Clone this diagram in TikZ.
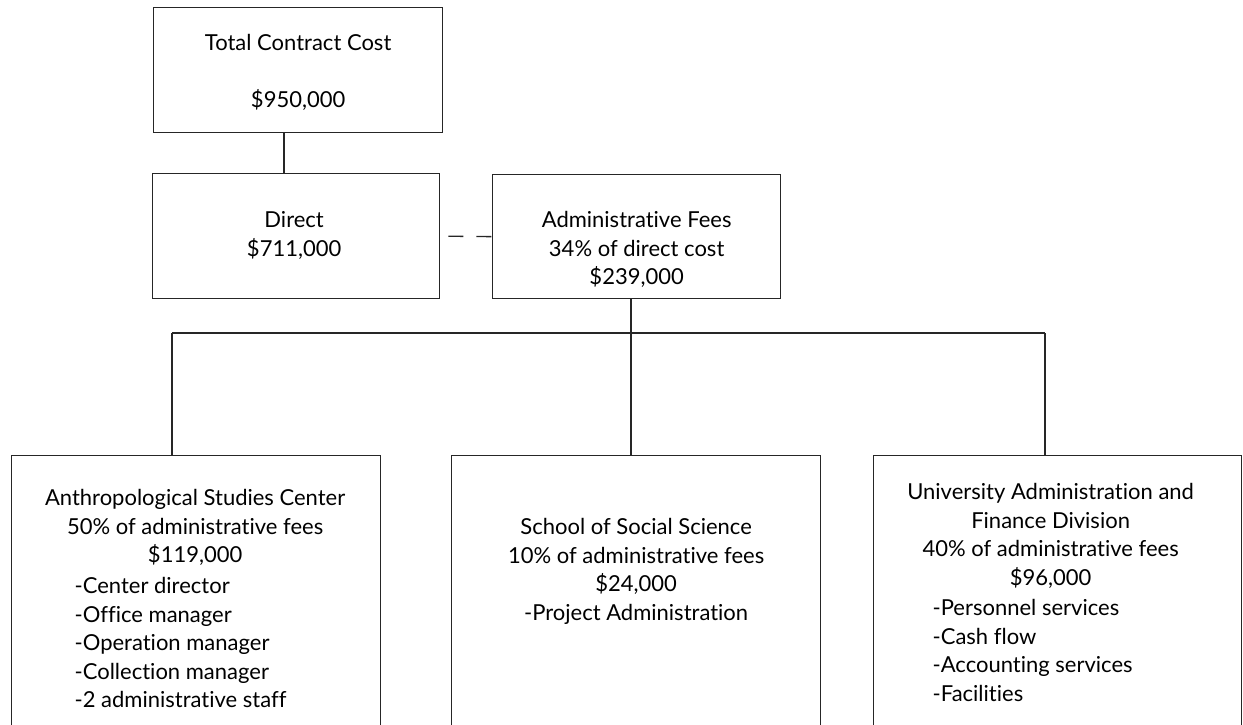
\documentclass[tikz,border=0pt]{standalone}
\usepackage{fontspec}
\setmainfont{Lato}[Ligatures=NoCommon]
\usetikzlibrary{positioning}

\begin{document}
\begin{tikzpicture}[
      x=1pt, y=-1pt,
      line width=1.3pt, draw=black!85,
      font=\fontsize{22}{28.5}\selectfont,
      box/.style={draw, inner sep=0pt, anchor=north west},
      heading/.style={align=center, inner sep=0pt},
      duties/.style={align=left, inner sep=0pt, anchor=north west},
      link/.style={line width=1.3pt, draw=black!85},
      split/.style={link, dash pattern=on 15pt off 13pt, dash phase=20pt},
  ]
    \clip (0,0) rectangle (1243,724);

    \node[box, minimum width=289pt, minimum height=125pt] (total) at (153,7) {};
    \node[box, minimum width=287pt, minimum height=125pt] (direct) at (152,173) {};
    \node[box, minimum width=288pt, minimum height=124pt] (admin) at (492,174) {};
    \node[box, minimum width=369pt, minimum height=300pt] (asc) at (11,455) {};
    \node[box, minimum width=369pt, minimum height=300pt] (school) at (451,455) {};
    \node[box, minimum width=368pt, minimum height=300pt] (univ) at (873,455) {};

    \node[heading, below=27pt of total.north] (totaltxt) {Total Contract Cost\\[28pt]\$950,000};
    \node[heading, below=38pt of direct.north, xshift=-2pt] (directtxt) {Direct\\\$711,000};
    \node[heading, below=37pt of admin.north] (admintxt) {Administrative Fees\\34\% of direct cost\\\$239,000};
    \node[heading, below=34pt of asc.north, xshift=-1pt] (asctxt) {Anthropological Studies Center\\50\% of administrative fees\\\$119,000};
    \node[duties] (ascduties) at (74,577) {-Center director\\-Office manager\\-Operation manager\\-Collection manager\\-2 administrative staff};
    \node[heading, below=63pt of school.north] (schooltxt) {School of Social Science\\10\% of administrative fees\\\$24,000\\-Project Administration};
    \node[heading, below=28pt of univ.north, xshift=-7pt] (univtxt) {University Administration and\\Finance Division\\40\% of administrative fees\\\$96,000};
    \node[duties] (univduties) at (932,599) {-Personnel services\\-Cash flow\\-Accounting services\\-Facilities};

    \coordinate (top) at (284,0);
    \coordinate (busl) at (172,333);
    \coordinate (busm) at (631,333);
    \coordinate (busr) at (1045,333);

    \draw[link] (total.south -| top) -- (direct.north -| top);
    \draw[split] (direct.east) -- (admin.west);
    \draw[link] (admin.south -| busm) -- (busm);
    \draw[link] (busl) -- (busr);
    \draw[link] (busl) -- (busl |- asc.north);
    \draw[link] (busm) -- (busm |- school.north);
    \draw[link] (busr) -- (busr |- univ.north);
  \end{tikzpicture}
\end{document}
